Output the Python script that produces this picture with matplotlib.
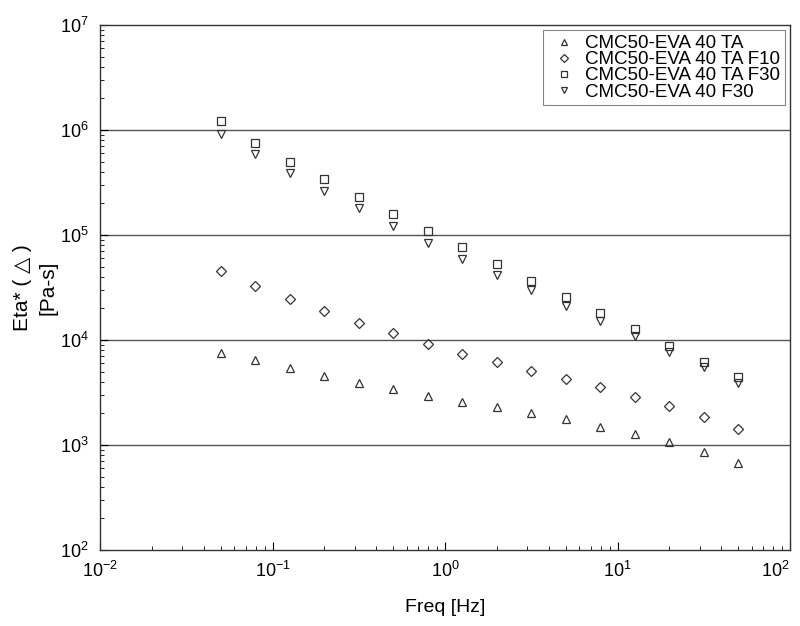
import matplotlib
matplotlib.use("Agg")
import matplotlib.pyplot as plt
from matplotlib.ticker import LogLocator, NullFormatter

plt.rcParams["font.family"] = ["Liberation Sans", "DejaVu Sans"]
plt.rcParams["mathtext.fontset"] = "custom"
plt.rcParams["mathtext.rm"] = "Liberation Sans"

freq = [0.05, 0.0794, 0.126, 0.2, 0.316, 0.5, 0.794, 1.26, 2.0, 3.16,
        5.0, 7.94, 12.6, 20.0, 31.6, 50.0]

eta_ta = [7500, 6500, 5400, 4500, 3900, 3400, 2930, 2570, 2300, 2020,
          1770, 1480, 1270, 1070, 860, 675]
eta_ta_f10 = [45000, 33000, 24600, 18900, 14500, 11700, 9200, 7400, 6200,
              5100, 4250, 3570, 2860, 2350, 1850, 1420]
eta_ta_f30 = [1220000, 750000, 495000, 340000, 230000, 158000, 109000, 77000,
              53000, 36500, 25700, 18100, 12700, 8800, 6200, 4450]
eta_f30 = [920000, 590000, 390000, 260000, 180000, 122000, 84000, 59000,
           41600, 30000, 21000, 15200, 10900, 7700, 5500, 3900]

labels = ["CMC50-EVA 40 TA", "CMC50-EVA 40 TA F10",
          "CMC50-EVA 40 TA F30", "CMC50-EVA 40 F30"]

fig = plt.figure(figsize=(8, 6.26), dpi=100)
ax = fig.add_axes([0.125, 0.1214, 0.8625, 0.8386])

mk = dict(linestyle="none", markerfacecolor="none", markeredgecolor="#333333",
          markeredgewidth=0.9, markersize=6)
ax.plot(freq, eta_ta, marker="^", label=labels[0], **mk)
ax.plot(freq, eta_ta_f10, marker="D", label=labels[1], **{**mk, "markersize": 5})
ax.plot(freq, eta_ta_f30, marker="s", label=labels[2], **{**mk, "markersize": 5.5})
ax.plot(freq, eta_f30, marker="v", label=labels[3], **mk)

ax.set_xscale("log")
ax.set_yscale("log")
ax.set_xlim(1e-2, 1e2)
ax.set_ylim(1e2, 1e7)

for v in [1e3, 1e4, 1e5, 1e6]:
    ax.axhline(v, color="#555555", linewidth=1.0, zorder=0)

ax.xaxis.set_major_locator(LogLocator(base=10, numticks=10))
ax.yaxis.set_major_locator(LogLocator(base=10, numticks=10))
ax.xaxis.set_minor_locator(LogLocator(base=10, subs=range(2, 10), numticks=20))
ax.yaxis.set_minor_locator(LogLocator(base=10, subs=range(2, 10), numticks=20))
ax.xaxis.set_minor_formatter(NullFormatter())
ax.yaxis.set_minor_formatter(NullFormatter())
ax.tick_params(which="both", direction="in", top=False, right=False,
               labelsize=13, colors="black")
ax.tick_params(which="major", length=6, width=0.8, pad=8)
ax.tick_params(which="minor", length=3, width=0.6)

for s in ax.spines.values():
    s.set_color("#333333")
    s.set_linewidth(1.0)

ax.set_xlabel("Freq [Hz]", fontsize=14, labelpad=13)
ax.set_ylabel("Eta* ( \u25b3 )\n[Pa-s]", fontsize=15, labelpad=2,
              linespacing=1.45, family=["Liberation Sans", "DejaVu Sans"])

leg = ax.legend(loc="upper right", fontsize=13.5, frameon=True, fancybox=False,
                edgecolor="#666666", handletextpad=0.3, handlelength=1.7,
                borderpad=0.25, labelspacing=-0.05, markerscale=0.75,
                borderaxespad=0.0, bbox_to_anchor=(0.9928, 0.99))
leg.get_frame().set_linewidth(0.8)

fig.canvas.draw()
for t in ax.xaxis.get_major_ticks():
    if abs(t.get_loc() - 100) < 1e-6:
        t.label1.set_horizontalalignment("right")
        t.label1.set_x(t.get_loc())

fig.savefig("out.png", dpi=100)
